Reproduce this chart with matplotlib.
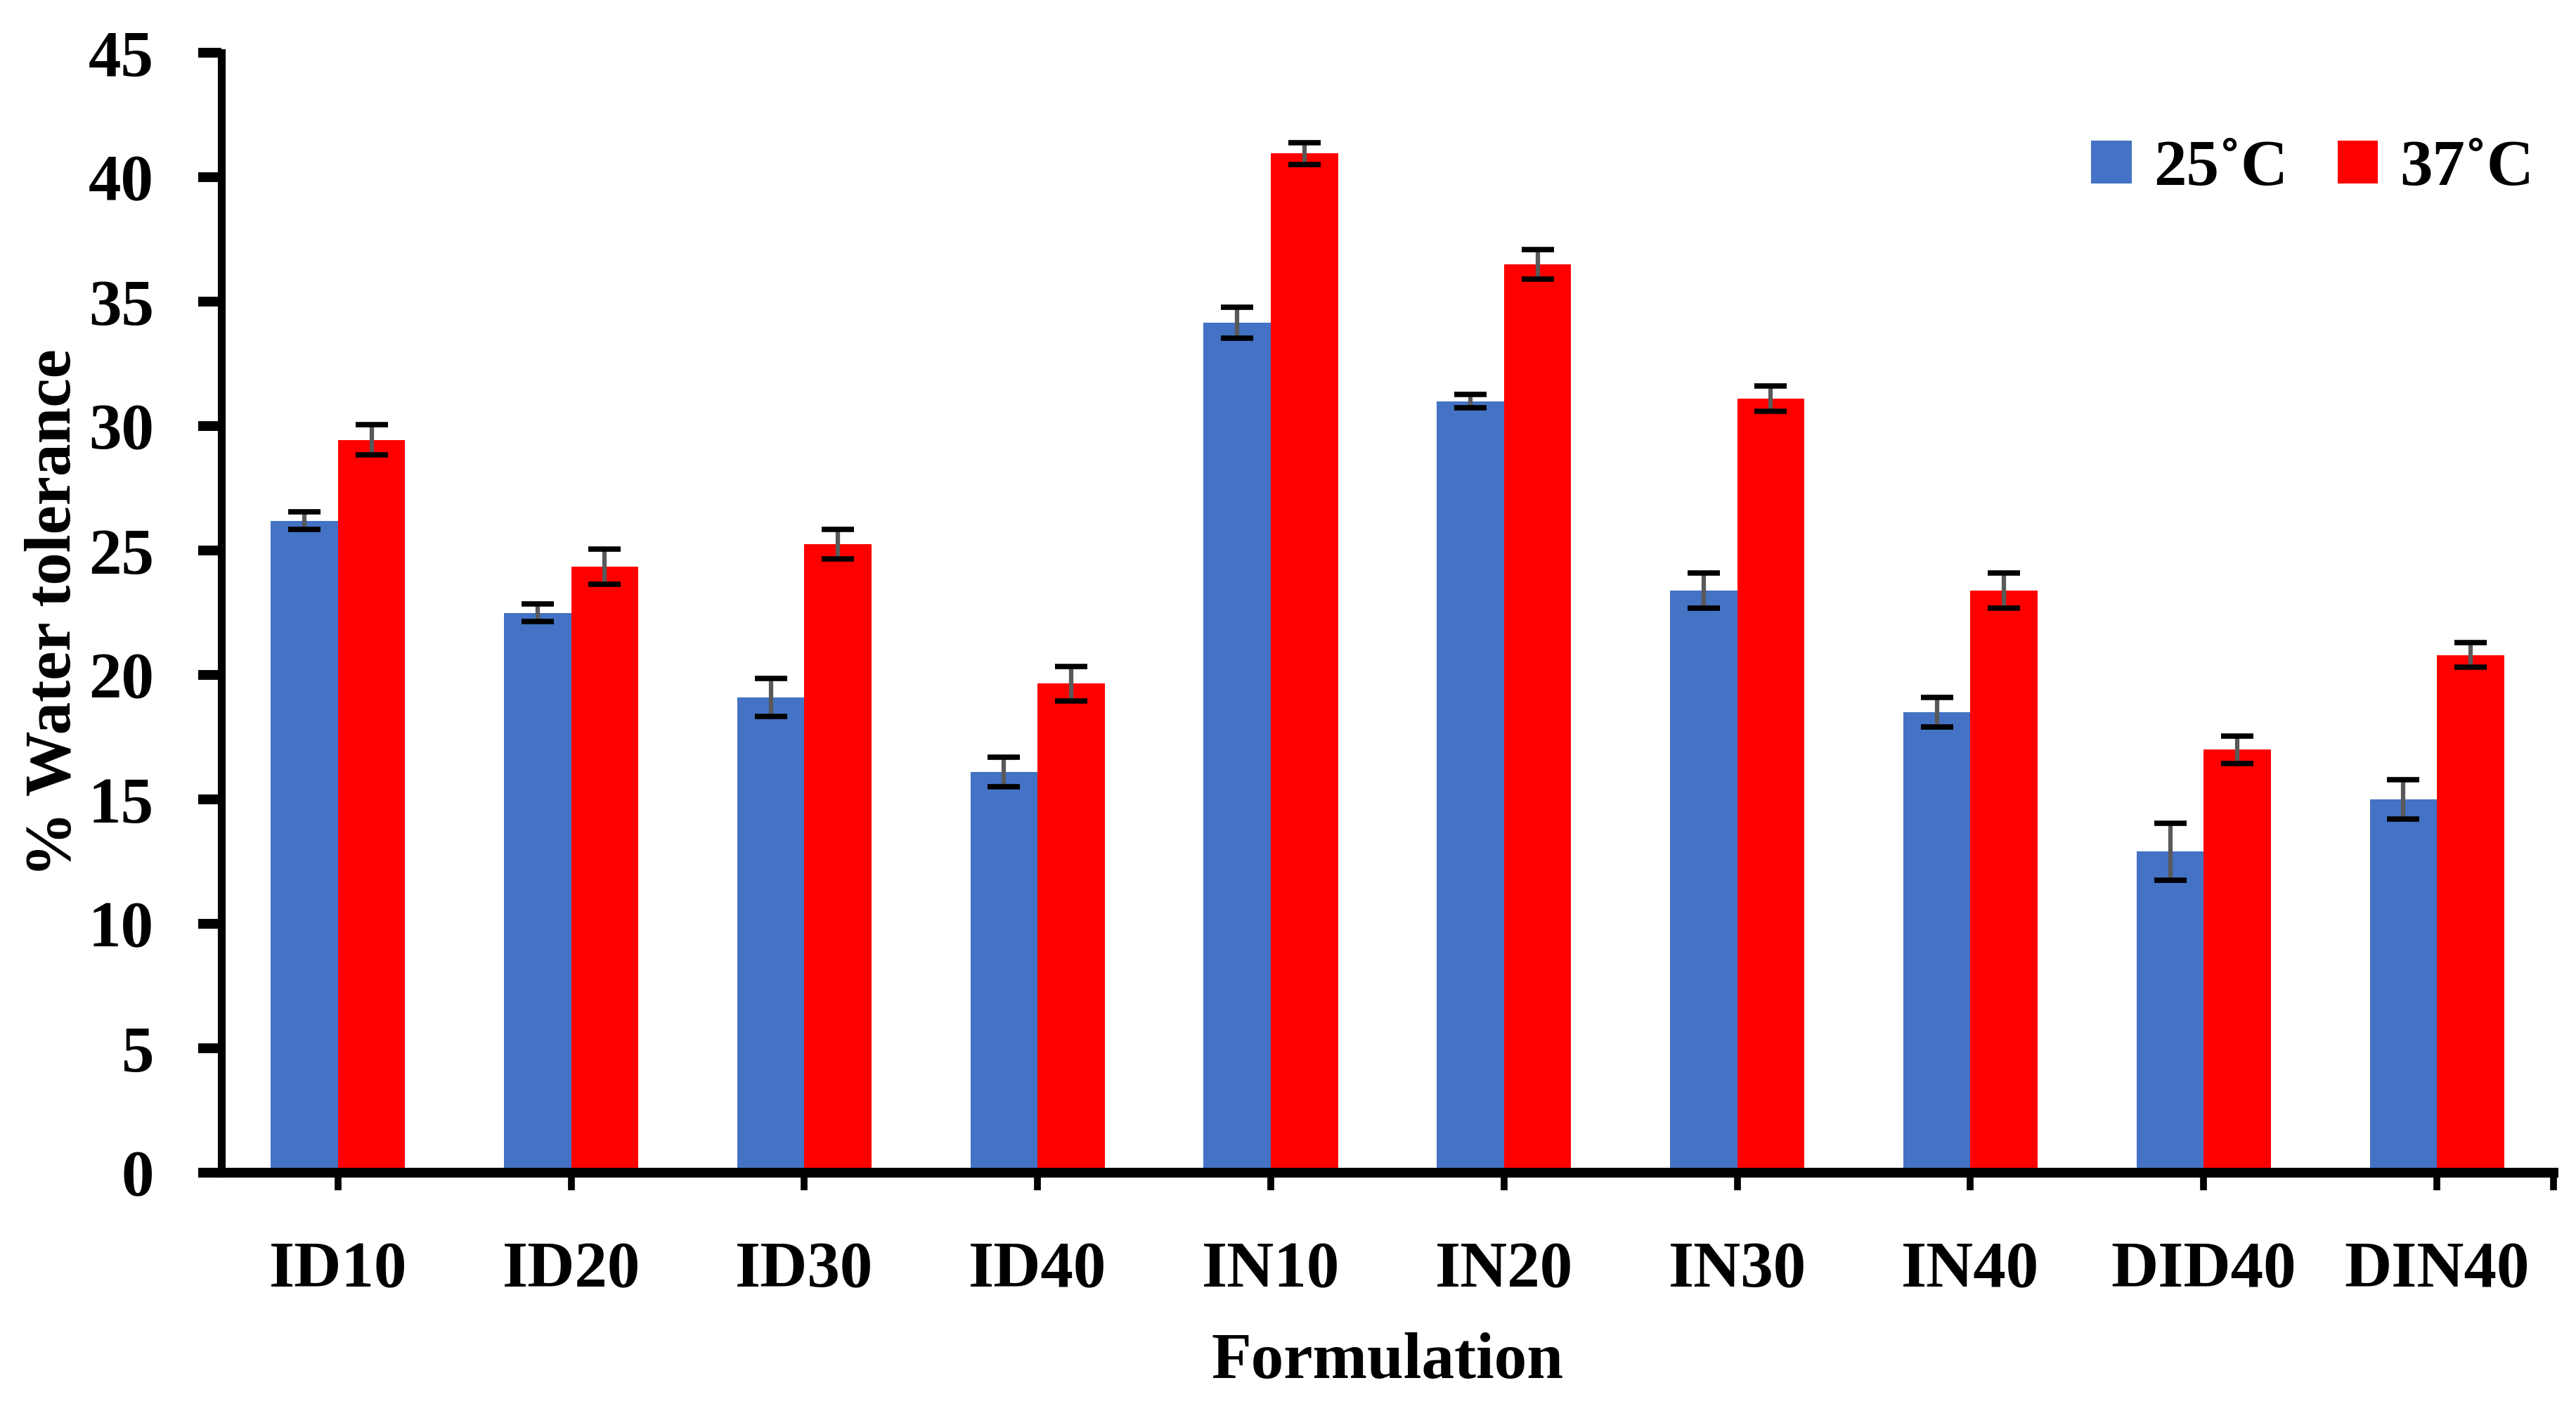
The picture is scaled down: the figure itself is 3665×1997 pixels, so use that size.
import numpy as np
import matplotlib
matplotlib.use("Agg")
import matplotlib.pyplot as plt
from matplotlib.ticker import FixedLocator

##-----     DATA     -----
formulations = ['ID10', 'ID20', 'ID30', 'ID40', 'IN10', 'IN20', 'IN30', 'IN40', 'DID40', 'DIN40']
tol_25 = [26.2, 22.5, 19.1, 16.1, 34.15, 31.0, 23.4, 18.5, 12.9, 15.0]
tol_37 = [29.45, 24.35, 25.25, 19.65, 40.95, 36.5, 31.1, 23.4, 17.0, 20.8]
err_25 = [0.35, 0.35, 0.75, 0.6, 0.62, 0.27, 0.7, 0.6, 1.15, 0.78]
err_37 = [0.6, 0.7, 0.6, 0.7, 0.44, 0.58, 0.5, 0.7, 0.55, 0.5]
series_names = ['25˚C', '37˚C']
yticks = [0, 5, 10, 15, 20, 25, 30, 35, 40, 45]

##-----     STYLE     -----
plt.rcParams['font.family'] = ['Liberation Serif', 'DejaVu Serif']
plt.rcParams['font.weight'] = 'bold'
fs = 67
blue = '#4472C4'
red = '#FF0000'

fig = plt.figure(figsize=(36.66, 19.97), dpi=100)
ax = fig.add_axes([0.0859, 0.1647, 0.9051, 0.7977])

x = np.arange(len(formulations))
w = 0.288
ax.bar(x - w/2, tol_25, w, color=blue, label=series_names[0], zorder=2)
ax.bar(x + w/2, tol_37, w, color=red, label=series_names[1], zorder=2)

# grey stems, black caps
for off, vals, err in [(-w/2, tol_25, err_25), (w/2, tol_37, err_37)]:
    line, caps, bars = ax.errorbar(x + off, vals, yerr=err, fmt='none', ecolor='#595959',
                                   elinewidth=4.5, capsize=16.5, capthick=5.5, zorder=3)
    for c in caps:
        c.set_markeredgecolor('black')
        c.set_markerfacecolor('black')
        c.set_zorder(4)

##-----     AXES     -----
ax.set_xlim(-0.5, 9.5)
ax.set_ylim(0, 45)
ax.set_yticks(yticks)
ax.set_xticks(x)
ax.set_xticklabels(formulations)
ax.xaxis.set_minor_locator(FixedLocator([9.5]))

for s in ['top', 'right']:
    ax.spines[s].set_visible(False)
ax.spines['left'].set_linewidth(8)
ax.spines['bottom'].set_linewidth(10)
ax.spines['bottom'].set_zorder(5)

ax.tick_params(axis='y', which='major', length=24, width=10, pad=45, labelsize=fs)
ax.tick_params(axis='x', which='both', length=18, width=7, pad=52, labelsize=fs)

ax.set_ylabel('% Water tolerance', fontsize=fs, fontweight='bold')
ax.set_xlabel('Formulation', fontsize=fs, fontweight='bold')
ax.yaxis.set_label_coords(-0.0588, 0.5)
ax.xaxis.set_label_coords(0.5, -0.1425)

ax.legend(loc='center right', bbox_to_anchor=(0.9916, 0.896), ncol=2, frameon=False,
          fontsize=fs, borderpad=0, borderaxespad=0, handlelength=0.62, handleheight=0.62,
          handletextpad=0.33, columnspacing=0.76)

fig.savefig('out.png', dpi=100)
